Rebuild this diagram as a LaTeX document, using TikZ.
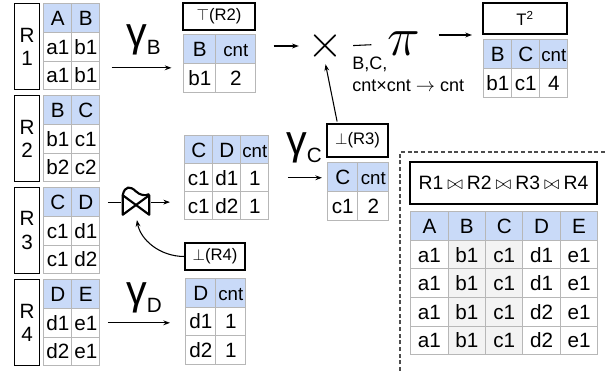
\documentclass[tikz,border=0pt]{standalone}
\usepackage{graphicx}
\usepackage{fontspec}
\setmainfont{Liberation Sans}
\usetikzlibrary{matrix, arrows.meta}

\definecolor{hdrblue}{HTML}{C9DAF8}
\definecolor{gridgray}{HTML}{B7B7B7}
\definecolor{cellgray}{HTML}{F3F3F3}

\newcommand\pxu{0.75pt}
\newcommand\tblfont{\fontsize{15.5}{18}\selectfont}
\newcommand\lblfont{\fontsize{12.5}{15}\selectfont}
\newcommand\cntt{{\fontsize{14}{16}\selectfont cnt}}
\newcommand\gam[1]{{\fontsize{31}{31}\selectfont γ}\raisebox{-6.5pt}{\fontsize{15.5}{16}\selectfont #1}}
\newcommand\jn{\hspace{3pt}$\bowtie$\hspace{3pt}}

\tikzset{
  tbl/.style={matrix of nodes, anchor=north west, inner sep=0pt,
    column sep=-0.75pt, row sep=-0.75pt,
    nodes={draw=gridgray, line width=0.75pt, fill=white, inner sep=0pt, outer sep=0pt,
      minimum width=28*\pxu, minimum height=28.7*\pxu, text height=11.2pt, text depth=0pt,
      font=\tblfont, anchor=center},
    row 1/.style={nodes={fill=hdrblue}}},
  rbox/.style={draw, line width=0.9pt, minimum width=25*\pxu, minimum height=86*\pxu,
    inner sep=0pt, align=center, font=\fontsize{15.5}{17.5}\selectfont, anchor=north west},
  lbl/.style={draw, line width=0.8pt, inner sep=0pt, font=\lblfont},
  arrow/.style={line width=0.8pt, -{Stealth[length=5pt, width=3.6pt]}},
  plain/.style={line width=0.8pt},
  joinsym/.style={line width=1.6pt, line join=round, line cap=round},
  dashbox/.style={line width=0.9pt, black!70, dash pattern=on 3pt off 2pt},
}

\begin{document}
\begin{tikzpicture}[x=0.75pt, y=-0.75pt]
\useasboundingbox (0,0) rectangle (607,371);

% input relations
\node (rOne) [rbox] at (14,3) {R\\1};
\node (rTwo) [rbox] at (14,95) {R\\2};
\node (rThree) [rbox] at (14,187) {R\\3};
\node (rFour) [rbox] at (14,279) {R\\4};

\matrix (tRone) [tbl] at (43,3) {
  A & B \\
  a1 & b1 \\
  a1 & b1 \\
};
\matrix (tRtwo) [tbl] at (43,95) {
  B & C \\
  b1 & c1 \\
  b2 & c2 \\
};
\matrix (tRthree) [tbl] at (43,187) {
  C & D \\
  c1 & d1 \\
  c1 & d2 \\
};
\matrix (tRfour) [tbl] at (43,279) {
  D & E \\
  d1 & e1 \\
  d2 & e1 \\
};

% gamma_B on R1
\node (gamB) [anchor=base west, inner sep=0pt] at (126,46) {\gam{B}};
\node (topRtwo) [lbl, minimum width=72*\pxu, minimum height=27*\pxu] at (219,16.5) {$\top$(R2)};
\matrix (tTop) [tbl, nodes={minimum height=29*\pxu}, column 1/.style={nodes={minimum width=32*\pxu}},
  column 2/.style={nodes={minimum width=40*\pxu}}] at (183,34) {
  B & \cntt \\
  b1 & 2 \\
};

% product and projection
\node (times) [inner sep=0pt] at (325,46) {\scalebox{2}{\fontsize{17.28}{17}\selectfont$\times$}};
\node (piOp) [inner sep=0pt] at (404,44) {\scalebox{2}{\fontsize{20.74}{20}\selectfont$\pi$}};
\node (piSub) [anchor=north west, align=left, inner sep=0pt, font=\fontsize{13.5}{16.5}\selectfont] at (352,57)
  {B,C,\\cnt×cnt $\rightarrow$ cnt};
\node (tsq) [lbl, minimum width=84*\pxu, minimum height=31*\pxu] at (525,18.5) {T\textsuperscript{2}};
\matrix (tTsq) [tbl, nodes={minimum height=29*\pxu}] at (483,39) {
  B & C & \cntt \\
  b1 & c1 & 4 \\
};

% semi join of R3 with bottom(R4)
\node (join) [inner sep=0pt, minimum width=26*\pxu, minimum height=19*\pxu] at (136,205) {};
\draw[joinsym] (join.north west) -- (join.south east) -- (join.north east) -- (join.south west) -- cycle;
\begin{scope}[shift={(join.north west)}]
  \draw[joinsym] (0,0) .. controls (2,-10) and (8,-9) .. (13,-4) .. controls (17,0) and (23,1) .. (26,-1);
\end{scope}
\matrix (tCD) [tbl, nodes={minimum height=28*\pxu}] at (184,135) {
  C & D & \cntt \\
  c1 & d1 & 1 \\
  c1 & d2 & 1 \\
};
\node (botRthree) [lbl, minimum width=61*\pxu, minimum height=33*\pxu] at (357.5,140.5) {$\perp$(R3)};
\matrix (tCcnt) [tbl, nodes={minimum height=29*\pxu}, column 1/.style={nodes={minimum width=30*\pxu}},
  column 2/.style={nodes={minimum width=31*\pxu}}] at (327,162) {
  C & \cntt \\
  c1 & 2 \\
};
\node (gamC) [anchor=base west, inner sep=0pt] at (286,154) {\gam{C}};

% gamma_D on R4
\node (botRfour) [lbl, minimum width=60*\pxu, minimum height=27*\pxu] at (215,256.5) {$\perp$(R4)};
\matrix (tDcnt) [tbl, nodes={minimum height=28.5*\pxu, minimum width=30*\pxu}] at (185,278) {
  D & \cntt \\
  d1 & 1 \\
  d2 & 1 \\
};
\node (gamD) [anchor=base west, inner sep=0pt] at (126,304) {\gam{D}};

% full join result
\draw[dashbox] (400,371) -- (400,152) -- (607,152);
\node (joinAll) [lbl, minimum width=187*\pxu, minimum height=42*\pxu, font=\fontsize{14.5}{17}\selectfont] at (503.5,183)
  {R1\jn R2\jn R3\jn R4};
\matrix (tAll) [tbl, nodes={minimum width=37.4*\pxu, minimum height=28.6*\pxu},
  column 2/.style={nodes={fill=cellgray}}, column 3/.style={nodes={fill=cellgray}}] at (410,211) {
  A & B & C & D & E \\
  a1 & b1 & c1 & d1 & e1 \\
  a1 & b1 & c1 & d1 & e1 \\
  a1 & b1 & c1 & d2 & e1 \\
  a1 & b1 & c1 & d2 & e1 \\
};

% connectors
\coordinate (gBstart) at ([yshift=-15.75pt]tRone.east);
\draw[arrow, shorten <=8.25pt, shorten >=8.25pt] (gBstart) -- (gBstart -| topRtwo.west);
\draw[arrow, shorten <=12.75pt, shorten >=6pt] (times -| tTop.east) -- (times.west);
\draw[plain, shorten <=7.5pt, shorten >=12pt] (times.east) -- (piOp.west);
\coordinate (piOut) at ([yshift=6.75pt]piOp.east);
\draw[arrow, shorten <=13.5pt, shorten >=8.25pt] (piOut) -- (piOut -| tTsq.west);
\draw[arrow, shorten <=1.5pt, shorten >=2pt] ([xshift=-15pt]botRthree.north) -- (times.south);
\draw[arrow, shorten <=14.25pt, shorten >=3.75pt] (tCD-2-3.east) -- (tCD-2-3.east -| tCcnt.west);
\draw[plain, shorten <=6pt, shorten >=1.5pt] (tRthree-1-2.east) -- (tRthree-1-2.east -| join.west);
\draw[arrow, shorten <=1.5pt, shorten >=10.5pt] (tRthree-1-2.east -| join.east) -- (tRthree-1-2.east -| tCD.west);
\draw[arrow, shorten >=4pt] (botRfour.west) to[out=180, in=-80] (join.south);
\draw[arrow, shorten <=6pt, shorten >=11.25pt] (tRfour-2-2.east) -- (tRfour-2-2.east -| tDcnt.west);
\end{tikzpicture}
\end{document}
